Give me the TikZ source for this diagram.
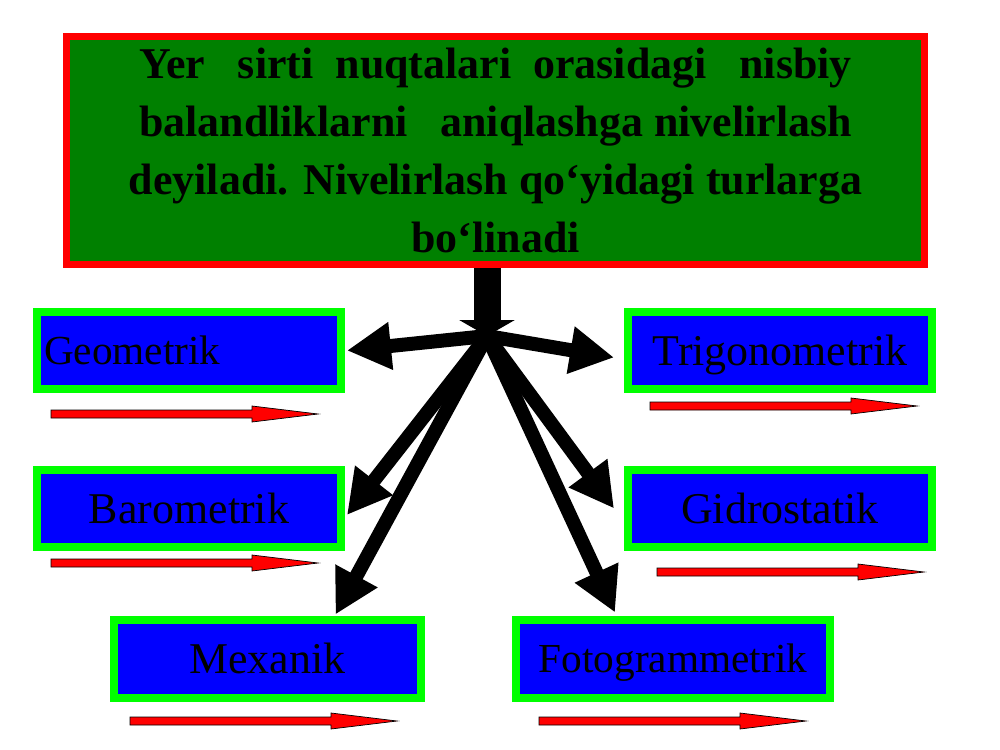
\documentclass[tikz,border=0pt]{standalone}
\usepackage{fontspec}
\setmainfont{Liberation Serif}
\usetikzlibrary{arrows.meta}
\definecolor{leafgreen}{RGB}{0,128,0}
\def\redpointer(#1,#2){\draw[fill=red, line width=0.4pt] (#1,#2) ++(0,-4) -- ++(201,0) -- ++(0,-4) -- ++(66,8) -- ++(-66,8) -- ++(0,-4) -- ++(-201,0) -- cycle;}
\tikzset{
	kind/.style={draw=green, fill=blue, line width=0.16cm, minimum width=6.08cm, minimum height=1.56cm, inner sep=0pt, text depth=0pt, font=\fontsize{25}{30}\selectfont},
	spoke/.style={line width=0.28cm, -{Triangle[length=0.88cm, width=0.9cm]}}
}

\begin{document}
\begin{tikzpicture}[x=0.02cm, y=-0.02cm]
			%%%%% START %%%%%
			\useasboundingbox (0,0) rectangle (1000,750);
			
			\node[draw=red, fill=leafgreen, line width=0.14cm, minimum width=17.16cm, minimum height=4.56cm, inner sep=0pt, align=center, font=\fontsize{25}{33}\selectfont\bfseries] (title) at (495.5,150.5) {Yer~~~sirti~~nuqtalari~~orasidagi~~~nisbiy\\balandliklarni~~~aniqlashga nivelirlash\\deyiladi. Nivelirlash qo‘yidagi turlarga\hspace*{0.28cm}\\bo‘linadi};
			
			\node[kind, text width=5.8cm, align=left, font=\fontsize{23.5}{28}\selectfont] (geo) at (189,350.5) {Geometrik};
			\node[kind] (trig) at (780,350.5) {Trigonometrik};
			\node[kind] (baro) at (189,508.5) {Barometrik};
			\node[kind] (gidro) at (780,508.5) {Gidrostatik};
			\node[kind, minimum width=6.14cm] (mex) at (267.5,658.5) {Mexanik};
			\node[kind, minimum width=6.28cm, font=\fontsize{23.5}{28}\selectfont] (foto) at (673,658.5) {Fotogrammetrik};
			
			\redpointer(51,414);
			\redpointer(650,406);
			\redpointer(51,563);
			\redpointer(657,572);
			\redpointer(130,721);
			\redpointer(539,721);
			
			\coordinate (hub) at (487,336);
			\draw[line width=0.54cm, -{Triangle[length=0.32cm, width=1.1cm]}] (title.south -| hub) -- (hub);
			
			\draw[spoke] (hub) -- ([xshift=0.04cm]geo.east);
			\draw[spoke] (hub) -- ([xshift=-0.2cm, yshift=-0.14cm]trig.west);
			\draw[spoke] (hub) -- ([xshift=0.04cm, yshift=-0.13cm]baro.east);
			\draw[spoke] (hub) -- ([xshift=-0.2cm]gidro.west);
			\draw[spoke] (hub) -- ([xshift=1.36cm, yshift=0.02cm]mex.north);
			\draw[spoke] (hub) -- ([xshift=-1.16cm, yshift=0.06cm]foto.north);
			
			%%%%% END %%%%%
		\end{tikzpicture}
\end{document}
